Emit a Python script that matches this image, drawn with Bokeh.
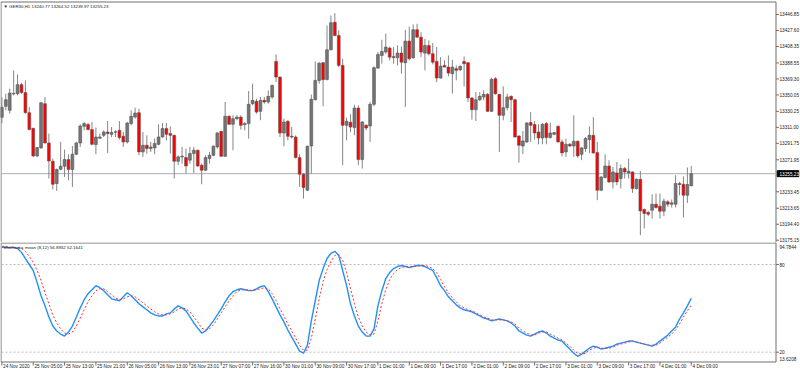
from bokeh.plotting import figure
from bokeh.models import ColumnDataSource, Range1d
from bokeh.layouts import column
from bokeh.embed import file_html
from bokeh.resources import INLINE
from bokeh.core.properties import value

# ---------------- data ----------------
opens = [
    13323.1, 13336.3, 13331.5, 13351.3, 13351.5, 13362.4, 13352.8, 13328.7, 13309.9, 13276.6,
    13286.2, 13339.5, 13292.2, 13270.2, 13243.4, 13260.6, 13264.2, 13272.2, 13260.2, 13278.6,
    13292.2, 13312.2, 13314.3, 13308.3, 13290.3, 13297.8, 13301.4, 13305.4, 13302.6, 13305.2,
    13307.4, 13300.2, 13293.4, 13315.5, 13323.4, 13328.7, 13281.4, 13289.4, 13285.4, 13286.2,
    13290.6, 13299.4, 13309.5, 13303.5, 13301.4, 13270.2, 13275.4, 13274.6, 13271.5, 13279.4,
    13283.4, 13265.4, 13259.4, 13273.4, 13277.4, 13287.4, 13306.2, 13276.2, 13324.3, 13314.7,
    13321.5, 13323.4, 13314.3, 13315.5, 13339.5, 13342.3, 13330.3, 13343.5, 13341.5, 13347.5,
    13390.4, 13371.5, 13304.2, 13318.3, 13300.2, 13299.4, 13274.6, 13254.6, 13235.3, 13288.6,
    13344.3, 13367.5, 13388.8, 13368.7, 13404.4, 13437.6, 13421.6, 13385.6, 13313.5, 13317.1,
    13310.7, 13334.2, 13272.2, 13313.5, 13312.6, 13338.7, 13382.3, 13397.6, 13401.6, 13406.4,
    13394.8, 13394.8, 13400.4, 13388.8, 13414.8, 13394.8, 13428.5, 13419.6, 13400.4, 13409.6,
    13399.6, 13390.4, 13370.3, 13385.6, 13383.5, 13375.6, 13381.6, 13380.4, 13390.4, 13388.8,
    13346.3, 13332.3, 13344.3, 13347.5, 13350.7, 13330.3, 13369.6, 13350.7, 13325.5, 13334.7,
    13348.3, 13344.3, 13300.6, 13288.6, 13293.4, 13316.7, 13314.3, 13305.4, 13298.2, 13315.5,
    13298.7, 13302.6, 13312.2, 13293.4, 13281.4, 13290.6, 13288.6, 13294.2, 13278.6, 13285.4,
    13296.3, 13301.4, 13280.6, 13235.3, 13250.6, 13264.5, 13245.3, 13256.1, 13249.4, 13261.4,
    13256.1, 13257.3, 13237.4, 13248.5, 13212.1, 13208.5, 13211.3, 13218.5, 13216.1, 13210.1,
    13221.3, 13218.5, 13218.5, 13243.4, 13242.5, 13229.3, 13240.77,
]
highs = [
    13347.1, 13351.5, 13357.6, 13379.6, 13374.8, 13364.3, 13367.5, 13335.4, 13310.2, 13287.4,
    13341.1, 13347.5, 13303.5, 13273.4, 13261.4, 13293.4, 13284.2, 13278.6, 13288.6, 13293.4,
    13314.7, 13317.4, 13316.2, 13317.4, 13310.7, 13303.5, 13307.4, 13318.6, 13311.4, 13307.4,
    13318.6, 13305.4, 13317.4, 13331.5, 13334.7, 13333.5, 13305.4, 13301.4, 13293.4, 13297.5,
    13314.7, 13316.2, 13316.2, 13312.2, 13302.0, 13277.4, 13287.4, 13285.4, 13287.4, 13287.4,
    13284.2, 13267.4, 13277.4, 13281.4, 13289.4, 13305.4, 13306.6, 13341.5, 13325.5, 13325.5,
    13325.5, 13325.5, 13317.4, 13354.7, 13363.6, 13345.5, 13347.5, 13347.5, 13355.5, 13362.4,
    13398.8, 13372.3, 13321.5, 13319.5, 13311.4, 13301.4, 13278.6, 13256.1, 13289.0, 13350.4,
    13390.4, 13389.5, 13389.5, 13433.7, 13445.7, 13448.4, 13427.6, 13393.6, 13322.7, 13326.7,
    13338.3, 13337.5, 13318.6, 13314.7, 13341.5, 13384.4, 13401.6, 13416.5, 13423.7, 13408.4,
    13407.6, 13409.6, 13408.4, 13428.5, 13432.4, 13434.9, 13435.7, 13425.6, 13417.7, 13415.6,
    13412.4, 13407.6, 13395.5, 13391.6, 13397.6, 13392.4, 13385.6, 13385.6, 13396.4, 13389.5,
    13347.5, 13353.5, 13353.5, 13355.5, 13352.3, 13370.8, 13371.5, 13351.0, 13360.3, 13351.5,
    13349.5, 13345.5, 13301.4, 13306.6, 13317.4, 13329.4, 13318.6, 13314.7, 13316.2, 13317.4,
    13316.7, 13305.4, 13313.5, 13296.3, 13297.5, 13292.2, 13325.5, 13295.4, 13287.4, 13299.4,
    13312.2, 13323.4, 13293.4, 13252.1, 13278.6, 13271.4, 13263.3, 13269.3, 13266.2, 13263.3,
    13273.4, 13258.0, 13249.4, 13258.5, 13213.3, 13210.5, 13230.5, 13231.3, 13231.3, 13225.3,
    13223.3, 13224.1, 13253.4, 13245.3, 13252.1, 13262.6, 13264.52,
]
lows = [
    13315.9, 13331.5, 13327.5, 13349.5, 13349.5, 13351.5, 13327.5, 13307.4, 13275.4, 13275.4,
    13285.4, 13291.5, 13249.4, 13236.2, 13234.5, 13259.4, 13251.3, 13247.3, 13239.3, 13277.4,
    13287.4, 13307.4, 13307.4, 13289.4, 13278.6, 13297.5, 13299.4, 13280.2, 13299.4, 13299.4,
    13296.3, 13287.4, 13291.5, 13313.5, 13321.5, 13277.4, 13275.4, 13279.4, 13281.4, 13278.6,
    13289.4, 13298.7, 13295.4, 13279.4, 13249.4, 13265.4, 13267.4, 13255.4, 13267.4, 13256.1,
    13263.3, 13242.5, 13258.5, 13267.4, 13276.2, 13285.4, 13275.5, 13275.4, 13314.0, 13283.4,
    13319.5, 13308.3, 13307.4, 13297.5, 13337.5, 13327.5, 13319.5, 13339.5, 13339.5, 13345.5,
    13365.5, 13299.4, 13288.2, 13295.4, 13297.5, 13273.4, 13239.3, 13225.3, 13234.5, 13255.4,
    13343.5, 13363.6, 13336.3, 13367.5, 13403.6, 13420.4, 13383.5, 13265.4, 13295.4, 13305.4,
    13301.4, 13265.4, 13261.4, 13307.4, 13293.4, 13336.3, 13381.6, 13387.6, 13399.6, 13391.6,
    13387.6, 13385.6, 13375.6, 13335.4, 13391.6, 13393.6, 13418.9, 13395.6, 13379.6, 13397.6,
    13386.8, 13365.5, 13369.6, 13383.5, 13372.3, 13351.5, 13367.5, 13378.7, 13360.3, 13341.5,
    13320.3, 13318.6, 13342.7, 13343.5, 13329.4, 13329.4, 13350.4, 13281.4, 13319.5, 13331.5,
    13317.4, 13298.7, 13268.6, 13278.6, 13292.2, 13293.4, 13296.3, 13290.6, 13290.6, 13290.6,
    13297.5, 13301.4, 13292.7, 13276.2, 13275.4, 13287.4, 13275.4, 13274.6, 13271.5, 13281.4,
    13280.2, 13279.4, 13223.3, 13234.5, 13249.4, 13244.1, 13237.4, 13241.3, 13237.4, 13249.4,
    13249.4, 13232.1, 13236.2, 13181.2, 13189.3, 13204.1, 13201.3, 13213.3, 13201.3, 13204.1,
    13215.3, 13214.5, 13214.5, 13229.3, 13202.5, 13220.1, 13239.97,
]
closes = [
    13335.1, 13344.3, 13352.3, 13351.9, 13362.4, 13352.8, 13328.7, 13308.3, 13276.6, 13286.6,
    13340.7, 13292.2, 13270.5, 13242.5, 13260.2, 13264.2, 13272.2, 13260.2, 13278.6, 13292.2,
    13312.6, 13315.5, 13308.3, 13290.6, 13299.4, 13299.4, 13305.4, 13303.5, 13304.7, 13305.6,
    13298.7, 13293.4, 13316.2, 13324.3, 13328.2, 13281.4, 13289.4, 13285.4, 13287.4, 13291.5,
    13299.4, 13309.5, 13302.6, 13301.4, 13270.2, 13275.4, 13276.2, 13264.5, 13279.4, 13283.4,
    13264.5, 13259.4, 13274.6, 13277.4, 13288.2, 13304.2, 13276.2, 13324.3, 13314.7, 13321.5,
    13323.4, 13313.5, 13315.5, 13338.7, 13343.5, 13329.4, 13343.5, 13341.5, 13348.3, 13361.5,
    13371.5, 13304.2, 13317.4, 13300.2, 13299.4, 13274.6, 13254.6, 13238.6, 13288.2, 13344.7,
    13367.5, 13388.3, 13368.4, 13404.4, 13436.9, 13421.6, 13385.6, 13313.5, 13318.3, 13311.4,
    13334.2, 13272.2, 13317.4, 13310.2, 13338.7, 13382.8, 13398.8, 13402.4, 13407.6, 13395.5,
    13396.4, 13400.4, 13389.5, 13414.8, 13393.6, 13428.5, 13419.6, 13401.6, 13409.6, 13399.6,
    13389.5, 13370.3, 13384.7, 13383.5, 13376.3, 13383.5, 13379.6, 13384.4, 13387.6, 13346.3,
    13332.3, 13344.3, 13348.3, 13350.7, 13330.3, 13368.7, 13351.5, 13325.5, 13334.7, 13347.5,
    13344.3, 13299.4, 13289.4, 13294.6, 13316.2, 13313.5, 13304.2, 13298.2, 13314.7, 13298.7,
    13304.2, 13304.7, 13293.4, 13280.2, 13290.6, 13288.6, 13294.2, 13276.6, 13286.2, 13297.5,
    13301.4, 13280.2, 13235.3, 13251.3, 13264.5, 13245.3, 13257.3, 13245.3, 13261.4, 13257.3,
    13258.1, 13237.4, 13248.5, 13210.4, 13207.3, 13206.5, 13218.5, 13214.5, 13210.1, 13222.1,
    13218.5, 13220.1, 13243.4, 13242.2, 13229.3, 13242.2, 13255.23,
]
stoch_main = [
    91.7, 91.7, 91.7, 91.7, 91.0, 88.3, 84.1, 80.0, 75.9, 67.6,
    58.6, 51.7, 44.1, 37.9, 34.5, 32.4, 31.0, 33.8, 37.9, 44.1,
    50.3, 55.9, 60.0, 62.7, 65.5, 64.1, 62.1, 59.3, 56.5, 55.9,
    55.2, 57.9, 60.7, 58.6, 55.9, 53.1, 51.0, 49.0, 46.9, 45.5,
    44.8, 44.8, 46.2, 46.9, 49.6, 51.7, 50.3, 48.3, 44.1, 40.0,
    36.5, 33.1, 34.5, 37.9, 41.4, 45.5, 49.6, 54.5, 58.6, 61.4,
    62.7, 63.4, 62.7, 62.1, 62.1, 63.4, 64.8, 65.5, 61.4, 56.5,
    51.0, 45.5, 40.7, 35.2, 30.3, 25.5, 20.7, 19.3, 24.8, 41.4,
    55.2, 69.0, 77.2, 84.1, 87.6, 89.0, 86.2, 75.9, 65.5, 53.1,
    44.8, 37.9, 33.8, 31.0, 31.0, 35.9, 51.7, 62.1, 70.3, 74.5,
    77.2, 78.6, 79.3, 78.6, 77.9, 78.6, 79.3, 79.3, 78.6, 77.2,
    75.9, 71.0, 65.5, 62.1, 57.9, 55.2, 52.4, 50.3, 49.0, 48.3,
    47.6, 46.2, 44.8, 43.4, 42.7, 41.4, 42.1, 42.7, 42.1, 41.4,
    40.0, 37.9, 34.5, 33.1, 31.7, 31.0, 32.4, 33.8, 34.5, 33.1,
    31.0, 29.6, 28.3, 27.6, 24.8, 22.1, 19.3, 17.2, 18.6, 20.7,
    22.7, 24.1, 23.4, 22.1, 22.7, 23.4, 24.1, 25.5, 26.2, 26.9,
    27.6, 27.6, 26.9, 26.2, 25.5, 24.8, 24.1, 25.5, 27.6, 29.6,
    31.7, 34.5, 37.2, 42.7, 46.9, 51.7, 56.8932,
]
stoch_signal = [
    92.4, 92.4, 91.7, 91.7, 91.7, 91.0, 89.0, 85.5, 81.4, 75.9,
    69.0, 60.7, 53.1, 45.5, 40.0, 35.9, 33.1, 32.4, 33.8, 37.9,
    43.4, 49.0, 54.5, 58.6, 62.1, 63.4, 63.4, 61.4, 59.3, 57.2,
    55.9, 56.5, 57.9, 58.6, 57.9, 55.9, 53.8, 51.7, 49.6, 47.6,
    46.2, 45.5, 45.5, 46.2, 47.6, 49.6, 50.3, 49.6, 47.6, 44.1,
    40.7, 36.5, 35.2, 35.9, 38.6, 42.7, 46.9, 51.0, 55.2, 58.6,
    61.4, 62.7, 62.7, 62.7, 62.1, 62.7, 63.4, 64.1, 63.4, 60.0,
    55.2, 49.6, 44.8, 39.3, 34.5, 29.6, 24.8, 21.4, 21.4, 29.6,
    42.7, 56.5, 68.3, 76.5, 82.1, 86.2, 86.9, 82.8, 74.5, 63.4,
    53.1, 44.1, 37.9, 33.8, 31.7, 32.4, 41.4, 53.1, 62.7, 69.7,
    73.8, 76.5, 77.9, 78.6, 78.6, 78.6, 78.6, 79.3, 79.3, 78.6,
    77.2, 74.5, 69.7, 64.8, 60.7, 57.2, 54.5, 51.7, 50.3, 49.0,
    48.3, 46.9, 45.5, 44.1, 43.4, 42.1, 42.1, 42.1, 42.1, 41.4,
    40.7, 39.3, 36.5, 34.5, 33.1, 31.7, 31.7, 33.1, 33.8, 33.8,
    32.4, 31.0, 29.6, 28.3, 26.2, 24.1, 21.4, 19.3, 18.6, 19.3,
    21.4, 22.7, 23.4, 22.7, 22.7, 22.7, 23.4, 24.8, 25.5, 26.2,
    26.9, 27.6, 26.9, 26.2, 25.5, 24.8, 24.8, 24.8, 26.2, 28.3,
    30.3, 32.4, 35.2, 39.3, 44.1, 48.3, 52.1641,
]
tick_bars = [0, 8, 16, 24, 32, 40, 48, 56, 64, 72, 80, 88, 96, 104, 112, 120,
             128, 136, 144, 152, 160, 168, 176]
tick_labels = ["24 Nov 2020", "25 Nov 05:00", "25 Nov 13:00", "25 Nov 21:00",
               "26 Nov 05:00", "26 Nov 13:00", "26 Nov 23:01", "27 Nov 07:00",
               "27 Nov 16:00", "30 Nov 01:00", "30 Nov 09:00", "30 Nov 17:00",
               "1 Dec 01:00", "1 Dec 09:00", "1 Dec 17:00", "2 Dec 01:00",
               "2 Dec 09:00", "2 Dec 17:00", "3 Dec 01:00", "3 Dec 09:00",
               "3 Dec 17:00", "4 Dec 01:00", "4 Dec 09:00"]
price_ticks = [13446.85, 13427.60, 13408.35, 13388.55, 13369.30, 13350.05, 13330.25,
               13311.00, 13291.75, 13271.95, 13233.45, 13213.65, 13194.40, 13175.15]
stoch_levels = [80, 20]
stoch_min, stoch_max = 13.6208, 94.7844
symbol_title = "\u25BC GER30,H1 13240.77 13264.52 13239.97 13255.23"
stoch_title = "Stochastic mean (8,12) 56.8932 52.1641"
last_price = closes[-1]

# ---------------- pixel layout helpers ----------------
W = 800
H1, H2 = 242, 130
PX_PER_BAR = 3.917
X0 = -0.1                 # bar coordinate at canvas px 1
AXIS_PX = 775.5           # right edge of the chart frame
PRICE_AT_0 = 13463.70     # price at canvas y = 0
PRICE_PER_PX = 1.2038
ST_TOP_Y = 242.4          # canvas y of stoch_max
ST_PER_PX = (stoch_max - stoch_min) / (361.0 - ST_TOP_Y)

FONT = "Liberation Sans"
FS = "4.7px"
FS_TITLE = "4.4px"
TXT = "#1a1a1a"
FRAME_C = "#6f6f6f"


def xp(px):
    return X0 + (px - 1) / PX_PER_BAR


def yp1(py):
    return PRICE_AT_0 - PRICE_PER_PX * py


def yp2(py):                # py: canvas y
    return stoch_max - (py - ST_TOP_Y) * ST_PER_PX


def base_fig(h, y0, y1):
    f = figure(width=W, height=h, output_backend="svg", toolbar_location=None,
               x_range=Range1d(xp(0), xp(W)), y_range=Range1d(y0, y1),
               x_axis_location=None, y_axis_location=None,
               min_border_left=0, min_border_right=0, min_border_top=0, min_border_bottom=0)
    f.grid.visible = False
    f.outline_line_color = None
    f.background_fill_color = "white"
    f.border_fill_color = "white"
    return f


def texts(f, xs, ys, labels, color=TXT, size=FS):
    f.text(x=xs, y=ys, text=labels, text_font=value(FONT), text_font_size=value(size),
           text_color=color, text_baseline="middle", text_align="left")


idx = list(range(len(closes)))
src = ColumnDataSource(dict(
    x=idx, o=opens, h=highs, l=lows, c=closes,
    top=[max(a, b) for a, b in zip(opens, closes)],
    bot=[min(a, b) for a, b in zip(opens, closes)],
    color=["#757575" if c >= o else "#ff0000" for o, c in zip(opens, closes)],
))

# ---------------- price panel ----------------
p1 = base_fig(H1, yp1(H1), yp1(0))

p1.multi_line(xs=[[xp(0.5), xp(AXIS_PX)], [xp(0.5), xp(0.5)], [xp(AXIS_PX), xp(AXIS_PX)]],
              ys=[[yp1(1.5), yp1(1.5)], [yp1(1.5), yp1(H1)], [yp1(1.5), yp1(H1)]],
              line_color=FRAME_C, line_width=1)
p1.segment(x0=[xp(1)], y0=[last_price], x1=[xp(AXIS_PX)], y1=[last_price],
           line_color="#a7b0ba", line_width=1)
p1.segment(x0="x", y0="l", x1="x", y1="h", source=src, line_color="#858585", line_width=1)
p1.vbar(x="x", top="top", bottom="bot", width=0.72, source=src, fill_color="color",
        line_color="#555555", line_width=0.6)

p1.segment(x0=[xp(AXIS_PX)] * len(price_ticks), y0=price_ticks,
           x1=[xp(AXIS_PX + 3)] * len(price_ticks), y1=price_ticks,
           line_color=FRAME_C, line_width=1)
texts(p1, [xp(AXIS_PX + 3.5)] * len(price_ticks), price_ticks,
      ["%.2f" % t for t in price_ticks])
p1.rect(x=[xp(787.5)], y=[last_price], width=21.5 / PX_PER_BAR, height=6 * PRICE_PER_PX,
        fill_color="black", line_color="black")
texts(p1, [xp(AXIS_PX + 3.5)], [last_price], ["%.2f" % last_price], color="white")
texts(p1, [xp(3)], [yp1(5.5)], [symbol_title], size=FS_TITLE)

# ---------------- stochastic panel ----------------
p2 = base_fig(H2, yp2(H1 + H2), yp2(H1))

p2.multi_line(xs=[[xp(0.5), xp(AXIS_PX)], [xp(0.5), xp(AXIS_PX)],
                  [xp(0.5), xp(0.5)], [xp(AXIS_PX), xp(AXIS_PX)]],
              ys=[[yp2(242.5), yp2(242.5)], [yp2(361.5), yp2(361.5)],
                  [yp2(242), yp2(361.5)], [yp2(242), yp2(361.5)]],
              line_color=FRAME_C, line_width=1)
p2.segment(x0=[xp(1)] * 2, y0=stoch_levels, x1=[xp(AXIS_PX)] * 2, y1=stoch_levels,
           line_color="#bdbdbd", line_dash="2 2", line_width=1)

p2.line(idx, stoch_main, line_color="#1e90ff", line_width=1.4)
p2.line(idx, stoch_signal, line_color="#ff3030", line_width=1, line_dash="2 2")

p2.segment(x0=[xp(AXIS_PX)] * 2, y0=stoch_levels, x1=[xp(AXIS_PX + 3)] * 2, y1=stoch_levels,
           line_color=FRAME_C, line_width=1)
texts(p2, [xp(AXIS_PX + 3.5)] * 2, stoch_levels, [str(v) for v in stoch_levels])
texts(p2, [xp(AXIS_PX + 3.5)] * 2, [yp2(246.2), yp2(358.2)],
      ["%.4f" % stoch_max, "%.4f" % stoch_min])
texts(p2, [xp(3)], [yp2(246.5)], [stoch_title], size=FS_TITLE)

p2.segment(x0=tick_bars, y0=[yp2(361.5)] * len(tick_bars),
           x1=tick_bars, y1=[yp2(365)] * len(tick_bars),
           line_color=FRAME_C, line_width=1)
texts(p2, [t + 1.2 / PX_PER_BAR for t in tick_bars], [yp2(366.3)] * len(tick_bars),
      tick_labels)

layout = column(p1, p2, spacing=0)
open("out.html", "w").write(file_html(layout, INLINE))
